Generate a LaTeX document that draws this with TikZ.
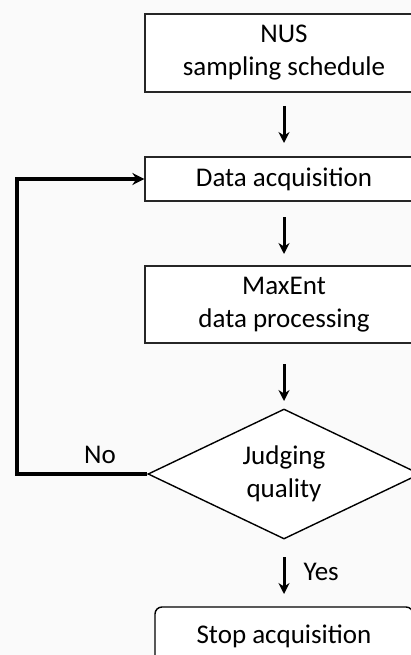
\documentclass[tikz,border=0pt]{standalone}
\usepackage{fontspec}
\setmainfont{Carlito}
\usetikzlibrary{shapes.geometric,arrows.meta}
\begin{document}
\begin{tikzpicture}[x=1pt,y=-1pt,
  box/.style={draw=black!85,line width=1.2pt,fill=white,minimum width=278pt,align=center,font=\fontsize{27}{33}\selectfont,inner sep=0pt},
  flow/.style={line width=3pt,-{Stealth[length=11pt,width=11pt]}},
  loop/.style={line width=3.5pt,-{Stealth[length=12pt,width=12pt]}},
  lbl/.style={font=\fontsize{27}{30}\selectfont}]
\useasboundingbox (0,0) rectangle (411,655);
\fill[black!2] (0,0) rectangle (411,655);
\clip (0,0) rectangle (411,655);
\node[box,minimum height=78pt] (nus) at (284,53) {NUS\\sampling schedule};
\node[box,minimum height=44pt] (acq) at (284,179) {Data acquisition};
\node[box,minimum height=77pt] (mx) at (284,304.5) {MaxEnt\\data processing};
\node[draw=black,line width=1.4pt,fill=white,diamond,aspect=2.1,minimum width=272pt,minimum height=130pt,inner sep=0pt,align=center,font=\fontsize{27}{33}\selectfont] (jq) at (284,474) {Judging\\quality};
\node[draw=black,line width=1.4pt,fill=white,rounded corners=7pt,minimum width=258pt,minimum height=58pt,font=\fontsize{27}{30}\selectfont] (stop) at (284,636) {Stop acquisition};
\coordinate (a1s) at (284,106); \coordinate (a1e) at (284,143);
\coordinate (a2s) at (284,217); \coordinate (a2e) at (284,254);
\coordinate (a3s) at (284,364); \coordinate (a3e) at (284,401);
\coordinate (a4s) at (284,557); \coordinate (a4e) at (284,594);
\draw[flow] (a1s) -- (a1e);
\draw[flow] (a2s) -- (a2e);
\draw[flow] (a3s) -- (a3e);
\draw[flow] (a4s) -- (a4e);
\node[lbl,anchor=west] (yes) at (300,572) {Yes};
\coordinate (lc) at (17,474);
\draw[loop] (jq.west) -- (lc) |- (acq.west);
\node[lbl] (no) at (100,455) {No};
\end{tikzpicture}
\end{document}
